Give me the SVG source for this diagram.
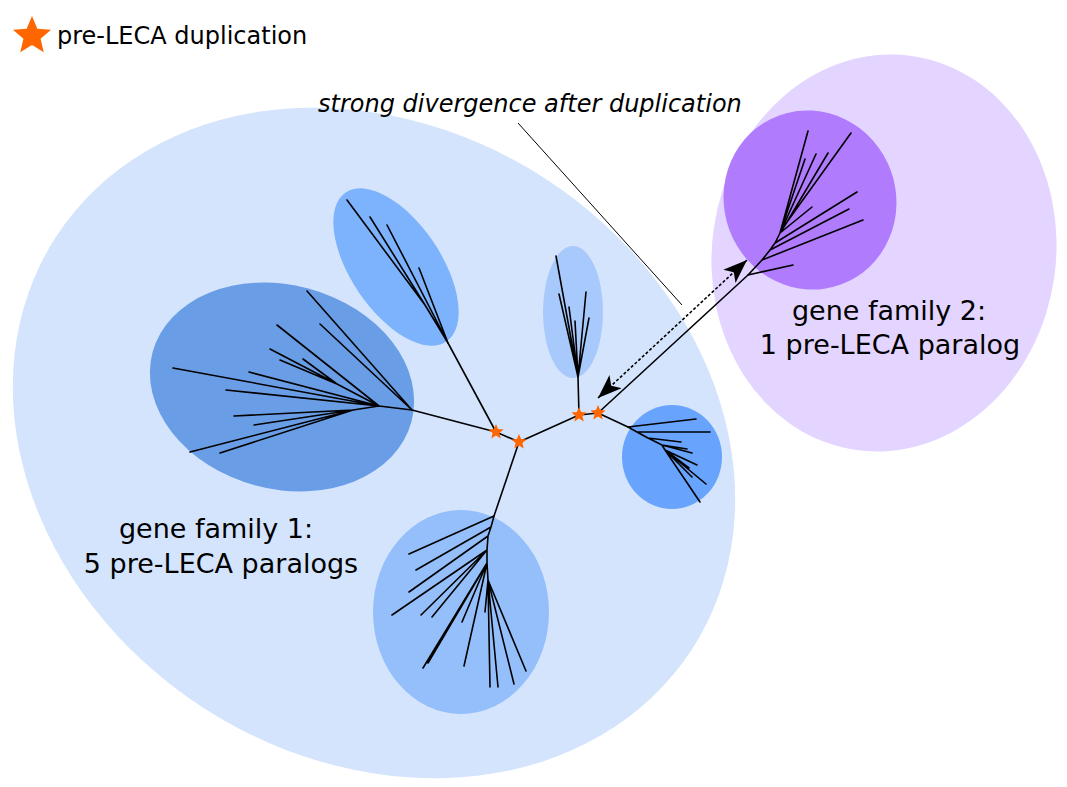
<svg xmlns="http://www.w3.org/2000/svg" width="1067" height="787" viewBox="0 0 1067 787">
<style>
.t{font-family:"DejaVu Sans","Liberation Sans",sans-serif;font-size:24px;fill:#000}
.big{font-size:27px}
.tr{fill:none;stroke:#000;stroke-width:1.6;stroke-linecap:round;stroke-linejoin:round}
.star{fill:#ff6600}
</style>
<defs>
<path id="star" d="M0,-10 L2.65,-3.64 L9.51,-3.09 L4.28,1.39 L5.88,8.09 L0,4.5 L-5.88,8.09 L-4.28,1.39 L-9.51,-3.09 L-2.65,-3.64 Z"/>
<marker id="ah" viewBox="0 0 24 18" refX="24" refY="9" markerWidth="24" markerHeight="18" markerUnits="userSpaceOnUse" orient="auto-start-reverse">
<path d="M24,9 L0,0 L6,9 L0,18 Z" fill="#000"/>
</marker>
</defs>
<rect width="1067" height="787" fill="#fff"/>

<g id="family1">
<ellipse cx="374" cy="443" rx="379" ry="315" transform="rotate(33 374 443)" fill="#d4e4fd"/>
</g>
<g id="family2">
<ellipse cx="884" cy="253" rx="172" ry="199" transform="rotate(8 884 253)" fill="#e3d5ff"/>
</g>

<g id="clade-left">
<ellipse cx="282" cy="387" rx="134" ry="102" transform="rotate(15 282 387)" fill="#699de6"/>
<path class="tr" d="M412,410 L379,406 M412,410 L307,291 M412,410 L320,324 M379,406 L173,368 M379,406 L226,390 M379,406 L249,372 M379,406 L277,325 M379,406 L337,384 M337,384 L270,349 M337,384 L280,360 M337,384 L303,359 M379,406 L353,410 M353,410 L234,416 M353,410 L254,425 M353,410 L190,452 M353,410 L220,453"/>
</g>

<g id="clade-upper">
<ellipse cx="396" cy="267" rx="90" ry="45" transform="rotate(56 396 267)" fill="#7db2fd"/>
<path class="tr" d="M448,343 L419,268 M448,343 L387,225 M448,343 L425,305 M425,305 L347,200 M425,305 L370,217"/>
</g>

<g id="clade-top">
<ellipse cx="573" cy="312" rx="30" ry="66" fill="#a8c9fb"/>
<path class="tr" d="M578,377 L556,256 M578,377 L559,294 M578,377 L569,307 M578,377 L575,321 M578,377 L586,292 M578,377 L589,318"/>
</g>

<g id="clade-right">
<ellipse cx="672" cy="457" rx="50" ry="52" fill="#68a4fd"/>
<path class="tr" d="M628,427 L696,419 M628,427 L637,432 L710,432 M637,432 L648,438 L681,442 M648,438 L662,445 L687,449 M662,445 L692,453 M662,445 L665,450 L697,465 M665,450 L689,468 M665,450 L706,484 M665,450 L692,477 M665,450 L700,502"/>
</g>

<g id="clade-bottom">
<ellipse cx="461" cy="612" rx="88" ry="102" fill="#94bffb"/>
<path class="tr" d="M494,516 L491,527 L488,536 L487,550 L487,563 L488,580 M494,516 L409,554 M491,527 L416,570 M488,536 L409,592 M487,550 L392,615 M487,550 L421,615 M487,550 L432,617 M487,563 L423,668 M487,563 L428,663 M487,563 L462,622 M487,563 L464,666 M488,580 L485,612 M488,580 L490,687 M488,580 L498,687 M488,580 L514,684 M488,580 L526,671"/>
</g>

<g id="clade-purple">
<ellipse cx="810" cy="200" rx="86" ry="90" transform="rotate(-20 810 200)" fill="#b07cfd"/>
<path class="tr" d="M748,275 L793,265 M748,275 L762,260 L863,220 M762,260 L770,250 L849,209 M770,250 L775,243 L857,192 M775,243 L780,233 L812,207 M780,233 L787,222 L851,133 M787,222 L828,153 M780,233 L816,154 M780,233 L805,159 M780,233 L808,131"/>
</g>

<g id="connectors">
<path class="tr" d="M412,410 L496,432 L519,442 L579,415 L598,413 L628,427 M496,432 L448,343 M519,442 L494,516 M579,415 L578,377 M598,413 L748,275"/>
<path d="M598,398 L747,260" fill="none" stroke="#000" stroke-width="1.6" stroke-dasharray="3,2" marker-start="url(#ah)" marker-end="url(#ah)"/>
<path d="M518,123 L682,305" fill="none" stroke="#000" stroke-width="1"/>
</g>

<g id="duplications">
<use href="#star" class="star" transform="translate(496 432) scale(0.8)"/>
<use href="#star" class="star" transform="translate(519 442) scale(0.8)"/>
<use href="#star" class="star" transform="translate(579 415) scale(0.8)"/>
<use href="#star" class="star" transform="translate(598 413) scale(0.8)"/>
</g>

<g id="legend">
<use href="#star" class="star" transform="translate(32 36) scale(2)"/>
<text class="t" x="57" y="44">pre-LECA duplication</text>
</g>

<text class="t" x="318" y="112" font-style="italic">strong divergence after duplication</text>
<text class="t big" x="216" y="538" text-anchor="middle">gene family 1:</text>
<text class="t big" x="221" y="573" text-anchor="middle">5 pre-LECA paralogs</text>
<text class="t big" x="889" y="320" text-anchor="middle">gene family 2:</text>
<text class="t big" x="890" y="354" text-anchor="middle">1 pre-LECA paralog</text>
</svg>
